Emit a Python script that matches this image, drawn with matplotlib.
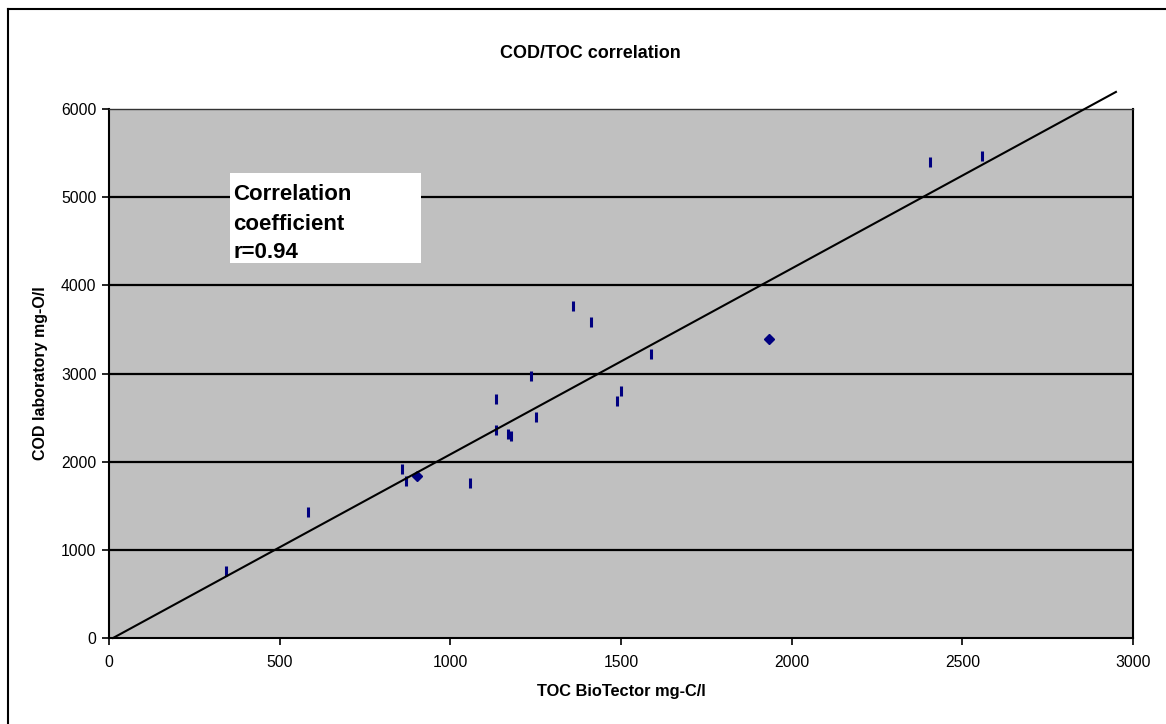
import matplotlib
matplotlib.use("Agg")
import matplotlib.pyplot as plt
from matplotlib.patches import Rectangle
from matplotlib.lines import Line2D

plt.rcParams['font.family'] = ['Liberation Sans', 'DejaVu Sans']

# Data (TOC mg-C/l, COD mg-O/l)
toc = [343, 584, 859, 871, 1059, 1135, 1135, 1170, 1178, 1235, 1252,
       1358, 1411, 1487, 1499, 1587, 2405, 2557]
cod = [761, 1432, 1920, 1784, 1761, 2716, 2364, 2315, 2295, 2966, 2511,
       3761, 3580, 2693, 2807, 3216, 5398, 5466]
# points drawn as diamond (overlapping markers)
toc_d = [903, 1933]
cod_d = [1841, 3386]

trend_slope = 2.108
trend_intercept = -25
trend_x = [12, 2950]

x_ticks = [0, 500, 1000, 1500, 2000, 2500, 3000]
y_ticks = [0, 1000, 2000, 3000, 4000, 5000, 6000]

W, H = 1166, 724
fig = plt.figure(figsize=(W / 100, H / 100), dpi=100)
fig.patch.set_facecolor('white')
ax = fig.add_axes([109 / W, 1 - 638 / H, (1133 - 109) / W, (638 - 109) / H])
ax.set_facecolor('#C0C0C0')
ax.set_xlim(0, 3000)
ax.set_ylim(0, 6000)
ax.set_xticks(x_ticks)
ax.set_yticks(y_ticks)
ax.tick_params(direction='out', length=5, width=1.2, labelsize=11.3, colors='black')
ax.tick_params(axis='y', pad=4)
ax.tick_params(axis='x', pad=7)
for s in ax.spines.values():
    s.set_linewidth(1.5)
    s.set_color('black')
ax.spines['top'].set_linewidth(1.0)
ax.spines['top'].set_color('#333333')
for yv in y_ticks[1:-1]:
    ax.axhline(yv, color='black', lw=1.6, zorder=1)

ax.plot(toc, cod, linestyle='none', marker='|', color='#000080', ms=7.5, mew=2.2, zorder=3)
ax.plot(toc_d, cod_d, linestyle='none', marker='D', color='#000080', ms=5, zorder=3)

ty = [trend_slope * x + trend_intercept for x in trend_x]
ax.plot(trend_x, ty, color='black', lw=1.5, clip_on=False, zorder=4)

ax.set_xlabel('TOC BioTector mg-C/l', fontsize=11.8, fontweight='bold', labelpad=10)
ax.set_ylabel('COD laboratory mg-O/l', fontsize=11.5, fontweight='bold', labelpad=9)
fig.text(590 / W, 1 - 54 / H, 'COD/TOC correlation', ha='center', va='center',
         fontsize=13, fontweight='bold')

# text box
fig.patches.append(Rectangle((230 / W, 1 - 263 / H), (421 - 230) / W, (263 - 173) / H,
                             transform=fig.transFigure, facecolor='white', edgecolor='none', zorder=5))
fig.text(233 / W, 1 - 224 / H, 'Correlation\ncoefficient\nr=0.94', ha='left', va='center',
         fontsize=16, fontweight='bold', linespacing=1.5, zorder=6)

# outer border (only left & top visible)
fig.add_artist(Line2D([8 / W, 8 / W], [0, 1 - 9 / H], transform=fig.transFigure, color='black', lw=1.5))
fig.add_artist(Line2D([8 / W, 1], [1 - 9 / H, 1 - 9 / H], transform=fig.transFigure, color='black', lw=1.5))

fig.savefig('out.png', dpi=100, facecolor='white')
